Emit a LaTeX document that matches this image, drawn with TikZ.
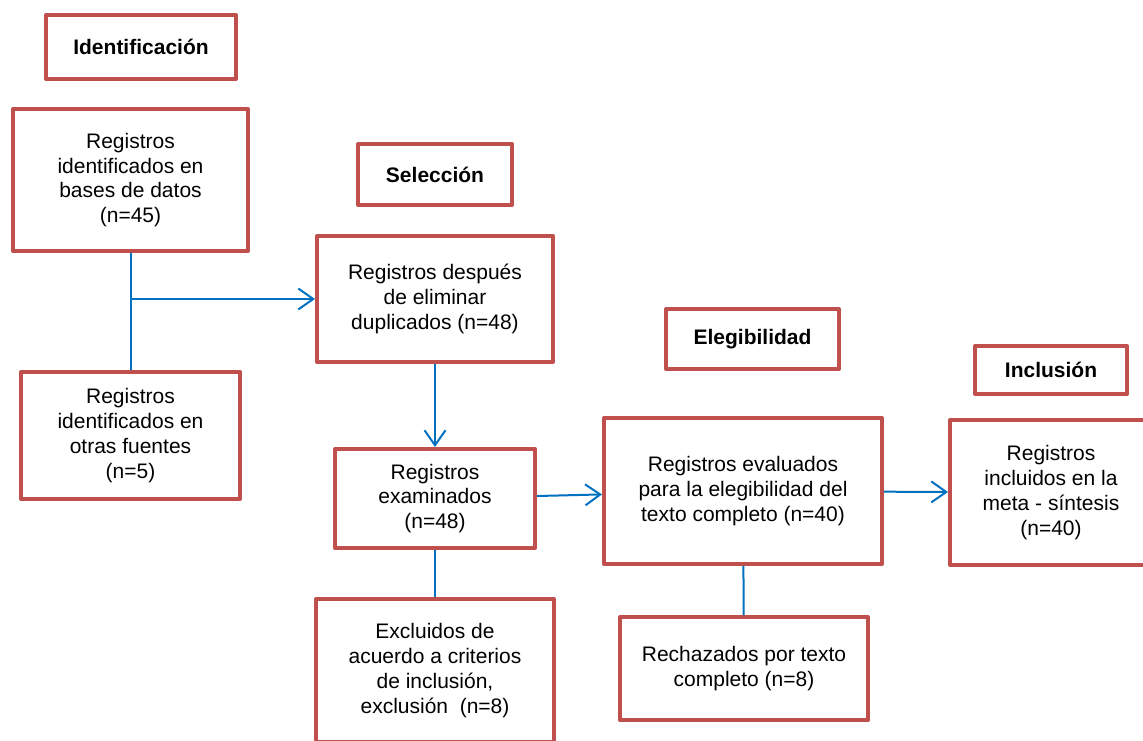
\documentclass[tikz,border=0pt]{standalone}
\usepackage{fontspec}
\setmainfont{Liberation Sans}
\usepackage{tikz}
\usetikzlibrary{arrows.meta}
\definecolor{boxred}{RGB}{192,80,77}
\definecolor{linkblue}{RGB}{0,112,192}

\begin{document}
\begin{tikzpicture}[x=1pt,y=-1pt,
        box/.style={draw=boxred,line width=4pt,line join=round,inner sep=0pt,outer sep=2pt,
            align=center,font=\fontsize{21}{24.8}\selectfont},
        stage/.style={box,font=\fontsize{21}{24.8}\selectfont\bfseries},
        link/.style={draw=linkblue,line width=2pt},
        arr/.style={link,-{Straight Barb[length=15pt,width=21pt]}}]
            \useasboundingbox (0,0) rectangle (1143,741);

            \node[stage,minimum width=190pt,minimum height=64pt] (ident) at (141,47) {Identificación};
            \node[box,minimum width=235pt,minimum height=142pt] (bases) at (130.5,180) {Registros\\identificados en\\bases de datos\\(n=45)};
            \node[box,minimum width=219pt,minimum height=127pt] (otras) at (130.5,435.5) {Registros\\identificados en\\otras fuentes\\(n=5)};

            \node[stage,minimum width=154pt,minimum height=61pt] (selec) at (435,174.5) {Selección};
            \node[box,minimum width=236pt,minimum height=126pt] (depur) at (435,299) {Registros después\\de eliminar\\duplicados (n=48)};
            \node[box,minimum width=200pt,minimum height=99pt] (exam) at (435,498.5) {Registros\\examinados\\(n=48)};
            \node[box,minimum width=238pt,minimum height=143pt] (excl) at (435,670.5) {Excluidos de\\acuerdo a criterios\\de inclusión,\\exclusión~~(n=8)};

            \node[stage,minimum width=173pt,minimum height=60pt] (elig) at (752.5,339) {Elegibilidad};
            \node[box,minimum width=278pt,minimum height=146pt] (evalu) at (743,491) {Registros evaluados\\para la elegibilidad del\\texto completo (n=40)};
            \node[box,minimum width=248pt,minimum height=103pt] (rech) at (744,668.5) {Rechazados por texto\\completo (n=8)};

            \node[stage,minimum width=152pt,minimum height=48pt] (incl) at (1051,370) {Inclusión};
            \node[box,minimum width=202pt,minimum height=145pt] (meta) at (1051,492.5) {Registros\\incluidos en la\\meta - síntesis\\(n=40)};

            \draw[link] (bases) -- (otras);
            \draw[arr] (bases.south |- depur.west) -- (depur);
            \draw[arr] (depur) -- (exam);
            \draw[link] (exam) -- (excl);
            \draw[arr] (exam) -- (evalu);
            \draw[link] (evalu) -- (rech);
            \draw[arr] (evalu) -- (meta);

        \end{tikzpicture}
\end{document}
